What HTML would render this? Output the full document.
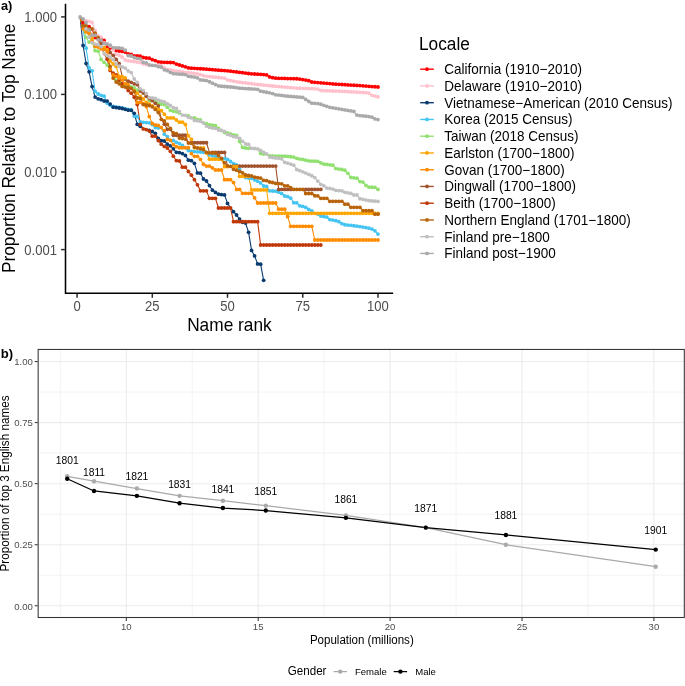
<!DOCTYPE html>
<html lang="en"><head><meta charset="utf-8"><title>Name distributions</title>
<style>html,body{margin:0;padding:0;background:#fff;}body{width:685px;height:686px;overflow:hidden;}svg{display:block;}text{font-family:"Liberation Sans",Arial,Helvetica,sans-serif;}</style></head><body>
<svg width="685" height="686" viewBox="0 0 685 686">
<rect width="685" height="686" fill="#fff"/>
<g id="top">
<g fill="none" stroke-width="1.1" stroke-linejoin="round">
<polyline stroke="#FF0000" points="80.08,16.9 83.09,23 86.1,25.6 89.11,26.7 92.11,29 95.12,37.5 98.13,38.5 101.14,39.6 104.15,40.5 107.16,47 110.17,48 113.18,49.5 116.19,50.6 119.2,51 122.2,51.4 125.21,52 128.22,54 131.23,54.5 134.24,55.8 137.25,56 140.26,56.2 143.27,57.5 146.28,58 149.29,58.2 152.29,59.7 155.3,60.6 158.31,61.9 161.32,62.2 164.33,62.3 167.34,62.4 170.35,62.5 173.36,62.6 176.37,64.1 179.38,65 182.38,65.91 185.39,66.86 188.4,67.93 191.41,68.13 194.42,68.34 197.43,68.55 200.44,68.75 203.45,68.96 206.46,69.17 209.47,69.39 212.47,69.63 215.48,69.88 218.49,70.13 221.5,70.38 224.51,70.62 227.52,70.87 230.53,71.13 233.54,71.53 236.55,71.92 239.56,72.32 242.56,72.72 245.57,73.12 248.58,73.51 251.59,73.8 254.6,73.98 257.61,74.17 260.62,74.35 263.63,74.54 266.64,74.94 269.65,76.91 272.65,77.63 275.66,78.22 278.67,78.29 281.68,78.37 284.69,78.45 287.7,78.53 290.71,78.6 293.72,78.68 296.73,78.76 299.74,79.04 302.75,79.57 305.75,80.1 308.76,80.68 311.77,82.02 314.78,82.29 317.79,82.55 320.8,82.82 323.81,83.08 326.82,83.35 329.83,83.61 332.83,83.88 335.84,84.14 338.85,84.34 341.86,84.52 344.87,84.7 347.88,84.88 350.89,85.05 353.9,85.23 356.91,85.41 359.92,85.62 362.93,85.85 365.93,86.08 368.94,86.31 371.95,86.54 374.96,86.77 377.97,87"/>
<polyline stroke="#FFC0CB" points="80.08,16.9 83.09,19.3 86.1,20.8 89.11,21.4 92.11,22.5 95.12,30.4 98.13,35.7 101.14,37.1 104.15,42.8 107.16,43.8 110.17,46 113.18,50 116.19,54.3 119.2,55.2 122.2,57.2 125.21,60 128.22,60.8 131.23,61.2 134.24,61.5 137.25,62.1 140.26,62.6 143.27,64.1 146.28,64.5 149.29,64.8 152.29,65.1 155.3,65.3 158.31,65.4 161.32,65.7 164.33,68 167.34,69.3 170.35,69.8 173.36,70.7 176.37,71.1 179.38,71.5 182.38,72 185.39,72.3 188.4,72.58 191.41,73.01 194.42,73.45 197.43,73.89 200.44,74.67 203.45,75.58 206.46,76.3 209.47,76.6 212.47,76.9 215.48,77.2 218.49,77.5 221.5,77.8 224.51,78.11 227.52,79.92 230.53,80.54 233.54,81.16 236.55,81.78 239.56,82.24 242.56,82.6 245.57,82.96 248.58,83.33 251.59,83.71 254.6,84.1 257.61,84.42 260.62,84.73 263.63,85.05 266.64,85.36 269.65,85.68 272.65,86 275.66,86.31 278.67,86.58 281.68,86.83 284.69,87.07 287.7,87.32 290.71,87.57 293.72,87.82 296.73,88.06 299.74,88.25 302.75,88.36 305.75,88.47 308.76,88.58 311.77,88.69 314.78,88.8 317.79,89.12 320.8,90.52 323.81,90.63 326.82,90.75 329.83,90.86 332.83,90.98 335.84,91.1 338.85,91.21 341.86,91.33 344.87,91.46 347.88,91.63 350.89,91.8 353.9,91.97 356.91,92.14 359.92,92.31 362.93,92.48 365.93,92.65 368.94,93.08 371.95,95.32 374.96,96.11 377.97,96.89"/>
<polyline stroke="#44C4F1" points="80.08,16.9 83.09,28.9 86.1,48.2 89.11,67.9 92.11,70.8 95.12,91.4 98.13,94 101.14,95.3 104.15,96.2 107.16,103.2 110.17,105.2 113.18,106.3 116.19,106.8 119.2,107.3 122.2,107.9 125.21,108.7 128.22,109.5 131.23,109.6 134.24,116.2 137.25,116.5 140.26,121.6 143.27,122.3 146.28,122.6 149.29,122.8 152.29,124.5 155.3,127.5 158.31,127.9 161.32,128.1 164.33,134.2 167.34,136.6 170.35,140.1 173.36,140.4 176.37,142.3 179.38,143.6 182.38,145.3 185.39,148 188.4,150.6 191.41,151.3 194.42,151.6 197.43,151.8 200.44,152 203.45,152.3 206.46,153.5 209.47,154.8 212.47,155.8 215.48,156.3 218.49,157.3 221.5,158.3 224.51,158.7 227.52,159.3 230.53,161.5 233.54,163.6 236.55,165 239.56,168.9 242.56,172.8 245.57,177.5 248.58,178 251.59,178.3 254.6,179.8 257.61,181.2 260.62,182.9 263.63,186 266.64,186.4 269.65,190.8 272.65,191 275.66,191.2 278.67,192.2 281.68,193.6 284.69,196 287.7,196.6 290.71,198.2 293.72,202.7 296.73,202.9 299.74,205.8 302.75,206.4 305.75,207.4 308.76,209.4 311.77,210.9 314.78,212.9 317.79,214 320.8,216.1 323.81,216.5 326.82,217.1 329.83,219.6 332.83,220.1 335.84,220.7 338.85,221.7 341.86,223.64 344.87,224.74 347.88,225.04 350.89,225.36 353.9,225.75 356.91,226.14 359.92,226.54 362.93,227.05 365.93,227.57 368.94,228.22 371.95,229.11 374.96,230.78 377.97,234.07"/>
<polyline stroke="#0A3B70" points="80.08,16.9 83.09,45.5 86.1,63.5 89.11,71.8 92.11,86.6 95.12,97.1 98.13,98.8 101.14,99.7 104.15,101 107.16,101.1 110.17,104.1 113.18,107.2 116.19,107.6 119.2,108 122.2,108.5 125.21,109.3 128.22,110.2 131.23,110.3 134.24,113.3 137.25,124.3 140.26,126.3 143.27,128.5 146.28,129.3 149.29,130.3 152.29,131.5 155.3,133.3 158.31,138.5 161.32,140.7 164.33,141 167.34,144.2 170.35,145.8 173.36,148.8 176.37,152.3 179.38,152.6 182.38,153.6 185.39,155.4 188.4,160.2 191.41,160.7 194.42,163.3 197.43,172.9 200.44,173.2 203.45,179 206.46,181 209.47,185.6 212.47,190.2 215.48,192.4 218.49,194.2 221.5,194.6 224.51,194.9 227.52,203.4 230.53,207.7 233.54,211.7 236.55,215 239.56,219.1 242.56,222.3 245.57,223.1 248.58,232.3 251.59,250.4 254.6,255.9 257.61,263.9 260.62,264.2 263.63,280.3"/>
<polyline stroke="#90E070" points="80.08,16.9 83.09,28.9 86.1,37.3 89.11,42.2 92.11,42.8 95.12,50.7 98.13,51.2 101.14,59.4 104.15,62.3 107.16,65.1 110.17,70 113.18,75 116.19,80.3 119.2,82.5 122.2,83.8 125.21,85 128.22,86 131.23,87 134.24,88 137.25,90.1 140.26,91.3 143.27,93.2 146.28,96.5 149.29,100.4 152.29,100.5 155.3,100.7 158.31,103.3 161.32,104 164.33,104.6 167.34,107.2 170.35,110.3 173.36,111.2 176.37,111.8 179.38,112.9 182.38,114.6 185.39,115.2 188.4,115.8 191.41,117.5 194.42,118 197.43,119.5 200.44,120 203.45,122.5 206.46,123.7 209.47,124.8 212.47,125.2 215.48,125.7 218.49,128.3 221.5,130.5 224.51,132.6 227.52,132.8 230.53,133.8 233.54,134.9 236.55,135.3 239.56,141.6 242.56,147.4 245.57,148 248.58,148.3 251.59,148.6 254.6,148.9 257.61,149.2 260.62,153.6 263.63,154 266.64,154.3 269.65,155.8 272.65,156 275.66,156.05 278.67,156.1 281.68,156.15 284.69,156.2 287.7,156.47 290.71,156.74 293.72,157.05 296.73,158.28 299.74,159.04 302.75,159.45 305.75,160.18 308.76,160.93 311.77,161.08 314.78,161.22 317.79,161.37 320.8,162.92 323.81,164.04 326.82,164.43 329.83,164.82 332.83,165.25 335.84,168.6 338.85,169.05 341.86,169.5 344.87,170.27 347.88,173.28 350.89,177.46 353.9,177.85 356.91,178.24 359.92,181.54 362.93,182.05 365.93,185.38 368.94,187.14 371.95,187.27 374.96,187.44 377.97,189.38"/>
<polyline stroke="#A0522D" points="80.08,16.9 83.09,25.6 86.1,25.8 89.11,28.9 92.11,29 95.12,33.1 98.13,37.7 101.14,43.6 104.15,43.7 107.16,44.2 110.17,52.5 113.18,55.3 116.19,59.4 119.2,63.6 122.2,76.3 125.21,79 128.22,81.2 131.23,82.3 134.24,83.8 137.25,84.5 140.26,91 143.27,93 146.28,96.3 149.29,98.6 152.29,100.7 155.3,103.3 158.31,105.9 161.32,119 164.33,124.2 167.34,129.3 170.35,129.3 173.36,135.23 176.37,135.23 179.38,135.23 182.38,135.23 185.39,135.23 188.4,142.74 191.41,142.74 194.42,142.74 197.43,142.74 200.44,142.74 203.45,142.74 206.46,142.74 209.47,152.42 212.47,152.42 215.48,152.42 218.49,152.42 221.5,152.42 224.51,152.42 227.52,166.07 230.53,166.07 233.54,166.07 236.55,166.07 239.56,166.07 242.56,166.07 245.57,166.07 248.58,166.07 251.59,166.07 254.6,166.07 257.61,166.07 260.62,166.07 263.63,166.07 266.64,166.07 269.65,166.07 272.65,166.07 275.66,166.07 278.67,189.4 281.68,189.4 284.69,189.4 287.7,189.4 290.71,189.4 293.72,189.4 296.73,189.4 299.74,189.4 302.75,189.4 305.75,189.4 308.76,189.4 311.77,189.4 314.78,189.4 317.79,189.4 320.8,189.4"/>
<polyline stroke="#BF3808" points="80.08,16.9 83.09,25.6 86.1,28.9 89.11,30 92.11,35.2 95.12,35.3 98.13,39.8 101.14,46.6 104.15,53.7 107.16,59.2 110.17,70.4 113.18,73.2 116.19,75 119.2,80 122.2,84 125.21,87 128.22,90.6 131.23,93.2 134.24,97.2 137.25,104.6 140.26,124.5 143.27,128.9 146.28,129.6 149.29,131.1 152.29,136.2 155.3,136.2 158.31,140.6 161.32,144.2 164.33,146.4 167.34,148 170.35,151.3 173.36,156.2 176.37,160.6 179.38,161 182.38,167.2 185.39,167.2 188.4,171.5 191.41,175.2 194.42,179.7 197.43,184.8 200.44,190.83 203.45,190.83 206.46,190.83 209.47,198.34 212.47,198.34 215.48,198.34 218.49,208.02 221.5,208.02 224.51,208.02 227.52,208.02 230.53,208.02 233.54,221.67 236.55,221.67 239.56,221.67 242.56,221.67 245.57,221.67 248.58,221.67 251.59,221.67 254.6,221.67 257.61,221.67 260.62,245 263.63,245 266.64,245 269.65,245 272.65,245 275.66,245 278.67,245 281.68,245 284.69,245 287.7,245 290.71,245 293.72,245 296.73,245 299.74,245 302.75,245 305.75,245 308.76,245 311.77,245 314.78,245 317.79,245 320.8,245"/>
<polyline stroke="#FFA500" points="80.08,16.9 83.09,28.9 86.1,31.9 89.11,33.5 92.11,38.5 95.12,46.4 98.13,47.1 101.14,47.4 104.15,47.6 107.16,49.7 110.17,61 113.18,64 116.19,66.6 119.2,76.3 122.2,76.6 125.21,77.9 128.22,87.5 131.23,88.4 134.24,90.8 137.25,93.2 140.26,96.3 143.27,99 146.28,102.4 149.29,104 152.29,106 155.3,108 158.31,109.4 161.32,110.7 164.33,114.2 167.34,117.94 170.35,117.94 173.36,117.94 176.37,119.98 179.38,122.15 182.38,122.15 185.39,124.48 188.4,135.8 191.41,139.35 194.42,147.8 197.43,147.8 200.44,147.8 203.45,147.8 206.46,152.99 209.47,159.13 212.47,159.13 215.48,159.13 218.49,159.13 221.5,159.13 224.51,166.64 227.52,166.64 230.53,166.64 233.54,166.64 236.55,166.64 239.56,176.32 242.56,176.32 245.57,176.32 248.58,176.32 251.59,189.97 254.6,189.97 257.61,189.97 260.62,189.97 263.63,189.97 266.64,189.97 269.65,213.3 272.65,213.3 275.66,213.3 278.67,213.3 281.68,213.3 284.69,213.3 287.7,213.3 290.71,213.3 293.72,213.3 296.73,213.3 299.74,213.3 302.75,213.3 305.75,213.3 308.76,213.3 311.77,213.3 314.78,213.3 317.79,213.3 320.8,213.3 323.81,213.3 326.82,213.3 329.83,213.3 332.83,213.3 335.84,213.3 338.85,213.3 341.86,213.3 344.87,213.3 347.88,213.3 350.89,213.3 353.9,213.3 356.91,213.3 359.92,213.3 362.93,213.3 365.93,213.3 368.94,213.3 371.95,213.3 374.96,213.3 377.97,213.3"/>
<polyline stroke="#FF8C00" points="80.08,16.9 83.09,28.9 86.1,31.9 89.11,33.5 92.11,41.5 95.12,46.4 98.13,47.1 101.14,48.8 104.15,49.3 107.16,51.5 110.17,69.3 113.18,75 116.19,76.3 119.2,78 122.2,80.1 125.21,83.8 128.22,84.9 131.23,88.4 134.24,91.5 137.25,102.4 140.26,102.4 143.27,103.7 146.28,106.6 149.29,116.6 152.29,123.5 155.3,125 158.31,125.4 161.32,127.6 164.33,130.7 167.34,139.4 170.35,140.3 173.36,144.64 176.37,146.68 179.38,147.75 182.38,147.75 185.39,147.75 188.4,147.75 191.41,153.67 194.42,156.36 197.43,156.36 200.44,159.29 203.45,164.23 206.46,166.05 209.47,166.05 212.47,167.97 215.48,170.01 218.49,170.01 221.5,170.01 224.51,179.69 227.52,179.69 230.53,179.69 233.54,182.62 236.55,189.38 239.56,189.38 242.56,193.34 245.57,193.34 248.58,193.34 251.59,193.34 254.6,197.83 257.61,203.02 260.62,203.02 263.63,203.02 266.64,203.02 269.65,203.02 272.65,203.02 275.66,203.02 278.67,209.16 281.68,209.16 284.69,209.16 287.7,216.67 290.71,226.35 293.72,226.35 296.73,226.35 299.74,226.35 302.75,226.35 305.75,226.35 308.76,226.35 311.77,226.35 314.78,240 317.79,240 320.8,240 323.81,240 326.82,240 329.83,240 332.83,240 335.84,240 338.85,240 341.86,240 344.87,240 347.88,240 350.89,240 353.9,240 356.91,240 359.92,240 362.93,240 365.93,240 368.94,240 371.95,240 374.96,240 377.97,240"/>
<polyline stroke="#B8620A" points="80.08,16.9 83.09,25.6 86.1,25.8 89.11,28.9 92.11,29 95.12,33.1 98.13,37.7 101.14,46.4 104.15,53.5 107.16,55.6 110.17,66.6 113.18,78.1 116.19,82 119.2,83.8 122.2,86.4 125.21,87.1 128.22,87.5 131.23,88.4 134.24,91.5 137.25,98 140.26,98.5 143.27,104.6 146.28,105 149.29,105.5 152.29,106.8 155.3,109.4 158.31,112.5 161.32,119.3 164.33,121 167.34,124.5 170.35,128.5 173.36,133 176.37,133.7 179.38,138.1 182.38,138.5 185.39,139.1 188.4,143 191.41,143.3 194.42,147.1 197.43,148 200.44,148.8 203.45,149.7 206.46,152.3 209.47,152.8 212.47,153 215.48,153.2 218.49,155.4 221.5,158.5 224.51,162.8 227.52,165.9 230.53,166.4 233.54,169.3 236.55,170.2 239.56,171.5 242.56,172.8 245.57,175 248.58,175.5 251.59,175.9 254.6,177.2 257.61,177.7 260.62,178.1 263.63,180.3 266.64,180.7 269.65,182 272.65,182.5 275.66,183.4 278.67,183.6 281.68,183.8 284.69,185.8 287.7,185.8 290.71,187.71 293.72,189.4 296.73,189.4 299.74,189.4 302.75,189.4 305.75,193.5 308.76,193.5 311.77,193.5 314.78,195.75 317.79,195.96 320.8,198.3 323.81,198.3 326.82,198.3 329.83,201.3 332.83,201.3 335.84,201.3 338.85,201.3 341.86,201.3 344.87,204.2 347.88,204.2 350.89,207.3 353.9,207.3 356.91,207.3 359.92,207.3 362.93,210.7 365.93,210.7 368.94,210.7 371.95,210.7 374.96,214.2 377.97,214.2"/>
<polyline stroke="#C0C0C0" points="80.08,16.9 83.09,19.5 86.1,28.9 89.11,37.2 92.11,42.6 95.12,44.1 98.13,44.5 101.14,46.6 104.15,53.7 107.16,55.6 110.17,57.2 113.18,59.6 116.19,64 119.2,66.2 122.2,66.9 125.21,68.1 128.22,71 131.23,72.6 134.24,79 137.25,82.3 140.26,88.8 143.27,90.6 146.28,93.6 149.29,97.6 152.29,98 155.3,98.5 158.31,100.2 161.32,101.1 164.33,102 167.34,103.7 170.35,105.5 173.36,107.7 176.37,108.5 179.38,111.6 182.38,115.1 185.39,115.3 188.4,117.3 191.41,117.9 194.42,120.4 197.43,120.8 200.44,121.3 203.45,123 206.46,126.1 209.47,127.4 212.47,128.1 215.48,128.3 218.49,130 221.5,130.5 224.51,131.3 227.52,134.4 230.53,135.3 233.54,136.6 236.55,137 239.56,138.4 242.56,141.3 245.57,143.9 248.58,144.4 251.59,148.3 254.6,148.5 257.61,148.8 260.62,150.5 263.63,152.3 266.64,154 269.65,157.1 272.65,157.5 275.66,158 278.67,158.3 281.68,158.8 284.69,162.3 287.7,163.21 290.71,164.12 293.72,165.18 296.73,169.49 299.74,170.63 302.75,171.79 305.75,173.11 308.76,174.42 311.77,175.73 314.78,177.61 317.79,181.09 320.8,184.29 323.81,185.83 326.82,188.06 329.83,188.38 332.83,189.08 335.84,190.36 338.85,190.61 341.86,190.87 344.87,192.36 347.88,192.82 350.89,193.45 353.9,195 356.91,195 359.92,198.74 362.93,199.32 365.93,200.04 368.94,200.69 371.95,200.94 374.96,201.17 377.97,201.4"/>
<polyline stroke="#A9A9A9" points="80.08,16.9 83.09,19 86.1,22.5 89.11,30 92.11,35.2 95.12,35.3 98.13,39.8 101.14,40.3 104.15,43.5 107.16,44 110.17,45.1 113.18,47.6 116.19,47.8 119.2,47.9 122.2,48.4 125.21,50.2 128.22,55.7 131.23,56 134.24,57.5 137.25,58.4 140.26,58.8 143.27,62.3 146.28,63 149.29,65 152.29,65.4 155.3,65.6 158.31,66.7 161.32,67.2 164.33,69.8 167.34,70.7 170.35,72.4 173.36,73.7 176.37,73.8 179.38,74.2 182.38,74.25 185.39,74.55 188.4,76.26 191.41,76.67 194.42,77.09 197.43,77.89 200.44,79.9 203.45,80.22 206.46,80.54 209.47,81.75 212.47,83.15 215.48,84.55 218.49,85.95 221.5,86.24 224.51,86.49 227.52,86.73 230.53,86.98 233.54,87.25 236.55,87.69 239.56,88.13 242.56,88.36 245.57,88.55 248.58,88.74 251.59,88.93 254.6,89.12 257.61,89.37 260.62,91.14 263.63,91.71 266.64,92.27 269.65,92.84 272.65,93.57 275.66,94.78 278.67,95.12 281.68,95.46 284.69,95.8 287.7,96.14 290.71,96.41 293.72,96.65 296.73,96.9 299.74,97.15 302.75,97.4 305.75,99.39 308.76,101.41 311.77,103.21 314.78,103.37 317.79,103.54 320.8,104.23 323.81,105.3 326.82,106.36 329.83,107.31 332.83,107.83 335.84,108.35 338.85,108.87 341.86,109.4 344.87,109.92 347.88,110.44 350.89,110.96 353.9,111.48 356.91,115.09 359.92,115.54 362.93,115.89 365.93,116.25 368.94,116.6 371.95,117.19 374.96,118.91 377.97,119.59"/>
</g>
<g stroke="none">
<g fill="#FF0000"><circle cx="83.09" cy="23" r="1.9"/><circle cx="89.11" cy="26.7" r="1.9"/><circle cx="95.12" cy="37.5" r="1.9"/><circle cx="98.13" cy="38.5" r="1.9"/><circle cx="101.14" cy="39.6" r="1.9"/><circle cx="104.15" cy="40.5" r="1.9"/><circle cx="107.16" cy="47" r="1.9"/><circle cx="110.17" cy="48" r="1.9"/><circle cx="116.19" cy="50.6" r="1.9"/><circle cx="119.2" cy="51" r="1.9"/><circle cx="122.2" cy="51.4" r="1.9"/><circle cx="125.21" cy="52" r="1.9"/><circle cx="128.22" cy="54" r="1.9"/><circle cx="131.23" cy="54.5" r="1.9"/><circle cx="134.24" cy="55.8" r="1.9"/><circle cx="137.25" cy="56" r="1.9"/><circle cx="140.26" cy="56.2" r="1.9"/><circle cx="143.27" cy="57.5" r="1.9"/><circle cx="146.28" cy="58" r="1.9"/><circle cx="149.29" cy="58.2" r="1.9"/><circle cx="152.29" cy="59.7" r="1.9"/><circle cx="155.3" cy="60.6" r="1.9"/><circle cx="158.31" cy="61.9" r="1.9"/><circle cx="161.32" cy="62.2" r="1.9"/><circle cx="164.33" cy="62.3" r="1.9"/><circle cx="167.34" cy="62.4" r="1.9"/><circle cx="170.35" cy="62.5" r="1.9"/><circle cx="173.36" cy="62.6" r="1.9"/><circle cx="176.37" cy="64.1" r="1.9"/><circle cx="179.38" cy="65" r="1.9"/><circle cx="182.38" cy="65.91" r="1.9"/><circle cx="185.39" cy="66.86" r="1.9"/><circle cx="188.4" cy="67.93" r="1.9"/><circle cx="191.41" cy="68.13" r="1.9"/><circle cx="194.42" cy="68.34" r="1.9"/><circle cx="197.43" cy="68.55" r="1.9"/><circle cx="200.44" cy="68.75" r="1.9"/><circle cx="203.45" cy="68.96" r="1.9"/><circle cx="206.46" cy="69.17" r="1.9"/><circle cx="209.47" cy="69.39" r="1.9"/><circle cx="212.47" cy="69.63" r="1.9"/><circle cx="215.48" cy="69.88" r="1.9"/><circle cx="218.49" cy="70.13" r="1.9"/><circle cx="221.5" cy="70.38" r="1.9"/><circle cx="224.51" cy="70.62" r="1.9"/><circle cx="227.52" cy="70.87" r="1.9"/><circle cx="230.53" cy="71.13" r="1.9"/><circle cx="233.54" cy="71.53" r="1.9"/><circle cx="236.55" cy="71.92" r="1.9"/><circle cx="239.56" cy="72.32" r="1.9"/><circle cx="242.56" cy="72.72" r="1.9"/><circle cx="245.57" cy="73.12" r="1.9"/><circle cx="248.58" cy="73.51" r="1.9"/><circle cx="251.59" cy="73.8" r="1.9"/><circle cx="254.6" cy="73.98" r="1.9"/><circle cx="257.61" cy="74.17" r="1.9"/><circle cx="260.62" cy="74.35" r="1.9"/><circle cx="263.63" cy="74.54" r="1.9"/><circle cx="266.64" cy="74.94" r="1.9"/><circle cx="269.65" cy="76.91" r="1.9"/><circle cx="272.65" cy="77.63" r="1.9"/><circle cx="275.66" cy="78.22" r="1.9"/><circle cx="278.67" cy="78.29" r="1.9"/><circle cx="281.68" cy="78.37" r="1.9"/><circle cx="284.69" cy="78.45" r="1.9"/><circle cx="287.7" cy="78.53" r="1.9"/><circle cx="290.71" cy="78.6" r="1.9"/><circle cx="293.72" cy="78.68" r="1.9"/><circle cx="296.73" cy="78.76" r="1.9"/><circle cx="299.74" cy="79.04" r="1.9"/><circle cx="302.75" cy="79.57" r="1.9"/><circle cx="305.75" cy="80.1" r="1.9"/><circle cx="308.76" cy="80.68" r="1.9"/><circle cx="311.77" cy="82.02" r="1.9"/><circle cx="314.78" cy="82.29" r="1.9"/><circle cx="317.79" cy="82.55" r="1.9"/><circle cx="320.8" cy="82.82" r="1.9"/><circle cx="323.81" cy="83.08" r="1.9"/><circle cx="326.82" cy="83.35" r="1.9"/><circle cx="329.83" cy="83.61" r="1.9"/><circle cx="332.83" cy="83.88" r="1.9"/><circle cx="335.84" cy="84.14" r="1.9"/><circle cx="338.85" cy="84.34" r="1.9"/><circle cx="341.86" cy="84.52" r="1.9"/><circle cx="344.87" cy="84.7" r="1.9"/><circle cx="347.88" cy="84.88" r="1.9"/><circle cx="350.89" cy="85.05" r="1.9"/><circle cx="353.9" cy="85.23" r="1.9"/><circle cx="356.91" cy="85.41" r="1.9"/><circle cx="359.92" cy="85.62" r="1.9"/><circle cx="362.93" cy="85.85" r="1.9"/><circle cx="365.93" cy="86.08" r="1.9"/><circle cx="368.94" cy="86.31" r="1.9"/><circle cx="371.95" cy="86.54" r="1.9"/><circle cx="374.96" cy="86.77" r="1.9"/><circle cx="377.97" cy="87" r="1.9"/></g>
<g fill="#FFC0CB"><circle cx="86.1" cy="20.8" r="1.9"/><circle cx="89.11" cy="21.4" r="1.9"/><circle cx="92.11" cy="22.5" r="1.9"/><circle cx="95.12" cy="30.4" r="1.9"/><circle cx="98.13" cy="35.7" r="1.9"/><circle cx="101.14" cy="37.1" r="1.9"/><circle cx="104.15" cy="42.8" r="1.9"/><circle cx="110.17" cy="46" r="1.9"/><circle cx="113.18" cy="50" r="1.9"/><circle cx="116.19" cy="54.3" r="1.9"/><circle cx="119.2" cy="55.2" r="1.9"/><circle cx="122.2" cy="57.2" r="1.9"/><circle cx="125.21" cy="60" r="1.9"/><circle cx="128.22" cy="60.8" r="1.9"/><circle cx="131.23" cy="61.2" r="1.9"/><circle cx="134.24" cy="61.5" r="1.9"/><circle cx="137.25" cy="62.1" r="1.9"/><circle cx="140.26" cy="62.6" r="1.9"/><circle cx="143.27" cy="64.1" r="1.9"/><circle cx="146.28" cy="64.5" r="1.9"/><circle cx="158.31" cy="65.4" r="1.9"/><circle cx="161.32" cy="65.7" r="1.9"/><circle cx="164.33" cy="68" r="1.9"/><circle cx="167.34" cy="69.3" r="1.9"/><circle cx="170.35" cy="69.8" r="1.9"/><circle cx="173.36" cy="70.7" r="1.9"/><circle cx="176.37" cy="71.1" r="1.9"/><circle cx="179.38" cy="71.5" r="1.9"/><circle cx="182.38" cy="72" r="1.9"/><circle cx="185.39" cy="72.3" r="1.9"/><circle cx="188.4" cy="72.58" r="1.9"/><circle cx="191.41" cy="73.01" r="1.9"/><circle cx="194.42" cy="73.45" r="1.9"/><circle cx="197.43" cy="73.89" r="1.9"/><circle cx="200.44" cy="74.67" r="1.9"/><circle cx="203.45" cy="75.58" r="1.9"/><circle cx="206.46" cy="76.3" r="1.9"/><circle cx="209.47" cy="76.6" r="1.9"/><circle cx="212.47" cy="76.9" r="1.9"/><circle cx="215.48" cy="77.2" r="1.9"/><circle cx="218.49" cy="77.5" r="1.9"/><circle cx="221.5" cy="77.8" r="1.9"/><circle cx="224.51" cy="78.11" r="1.9"/><circle cx="227.52" cy="79.92" r="1.9"/><circle cx="230.53" cy="80.54" r="1.9"/><circle cx="233.54" cy="81.16" r="1.9"/><circle cx="236.55" cy="81.78" r="1.9"/><circle cx="239.56" cy="82.24" r="1.9"/><circle cx="242.56" cy="82.6" r="1.9"/><circle cx="245.57" cy="82.96" r="1.9"/><circle cx="248.58" cy="83.33" r="1.9"/><circle cx="251.59" cy="83.71" r="1.9"/><circle cx="254.6" cy="84.1" r="1.9"/><circle cx="257.61" cy="84.42" r="1.9"/><circle cx="260.62" cy="84.73" r="1.9"/><circle cx="263.63" cy="85.05" r="1.9"/><circle cx="266.64" cy="85.36" r="1.9"/><circle cx="269.65" cy="85.68" r="1.9"/><circle cx="272.65" cy="86" r="1.9"/><circle cx="275.66" cy="86.31" r="1.9"/><circle cx="278.67" cy="86.58" r="1.9"/><circle cx="281.68" cy="86.83" r="1.9"/><circle cx="284.69" cy="87.07" r="1.9"/><circle cx="287.7" cy="87.32" r="1.9"/><circle cx="290.71" cy="87.57" r="1.9"/><circle cx="293.72" cy="87.82" r="1.9"/><circle cx="296.73" cy="88.06" r="1.9"/><circle cx="299.74" cy="88.25" r="1.9"/><circle cx="302.75" cy="88.36" r="1.9"/><circle cx="305.75" cy="88.47" r="1.9"/><circle cx="308.76" cy="88.58" r="1.9"/><circle cx="311.77" cy="88.69" r="1.9"/><circle cx="314.78" cy="88.8" r="1.9"/><circle cx="317.79" cy="89.12" r="1.9"/><circle cx="320.8" cy="90.52" r="1.9"/><circle cx="323.81" cy="90.63" r="1.9"/><circle cx="326.82" cy="90.75" r="1.9"/><circle cx="329.83" cy="90.86" r="1.9"/><circle cx="332.83" cy="90.98" r="1.9"/><circle cx="335.84" cy="91.1" r="1.9"/><circle cx="338.85" cy="91.21" r="1.9"/><circle cx="341.86" cy="91.33" r="1.9"/><circle cx="344.87" cy="91.46" r="1.9"/><circle cx="347.88" cy="91.63" r="1.9"/><circle cx="350.89" cy="91.8" r="1.9"/><circle cx="353.9" cy="91.97" r="1.9"/><circle cx="356.91" cy="92.14" r="1.9"/><circle cx="359.92" cy="92.31" r="1.9"/><circle cx="362.93" cy="92.48" r="1.9"/><circle cx="365.93" cy="92.65" r="1.9"/><circle cx="368.94" cy="93.08" r="1.9"/><circle cx="371.95" cy="95.32" r="1.9"/><circle cx="374.96" cy="96.11" r="1.9"/><circle cx="377.97" cy="96.89" r="1.9"/></g>
<g fill="#44C4F1"><circle cx="86.1" cy="48.2" r="1.9"/><circle cx="89.11" cy="67.9" r="1.9"/><circle cx="92.11" cy="70.8" r="1.9"/><circle cx="95.12" cy="91.4" r="1.9"/><circle cx="98.13" cy="94" r="1.9"/><circle cx="101.14" cy="95.3" r="1.9"/><circle cx="104.15" cy="96.2" r="1.9"/><circle cx="107.16" cy="103.2" r="1.9"/><circle cx="110.17" cy="105.2" r="1.9"/><circle cx="113.18" cy="106.3" r="1.9"/><circle cx="116.19" cy="106.8" r="1.9"/><circle cx="119.2" cy="107.3" r="1.9"/><circle cx="122.2" cy="107.9" r="1.9"/><circle cx="125.21" cy="108.7" r="1.9"/><circle cx="128.22" cy="109.5" r="1.9"/><circle cx="131.23" cy="109.6" r="1.9"/><circle cx="134.24" cy="116.2" r="1.9"/><circle cx="137.25" cy="116.5" r="1.9"/><circle cx="140.26" cy="121.6" r="1.9"/><circle cx="143.27" cy="122.3" r="1.9"/><circle cx="146.28" cy="122.6" r="1.9"/><circle cx="149.29" cy="122.8" r="1.9"/><circle cx="152.29" cy="124.5" r="1.9"/><circle cx="155.3" cy="127.5" r="1.9"/><circle cx="158.31" cy="127.9" r="1.9"/><circle cx="164.33" cy="134.2" r="1.9"/><circle cx="167.34" cy="136.6" r="1.9"/><circle cx="173.36" cy="140.4" r="1.9"/><circle cx="176.37" cy="142.3" r="1.9"/><circle cx="179.38" cy="143.6" r="1.9"/><circle cx="182.38" cy="145.3" r="1.9"/><circle cx="188.4" cy="150.6" r="1.9"/><circle cx="191.41" cy="151.3" r="1.9"/><circle cx="194.42" cy="151.6" r="1.9"/><circle cx="197.43" cy="151.8" r="1.9"/><circle cx="200.44" cy="152" r="1.9"/><circle cx="203.45" cy="152.3" r="1.9"/><circle cx="209.47" cy="154.8" r="1.9"/><circle cx="212.47" cy="155.8" r="1.9"/><circle cx="215.48" cy="156.3" r="1.9"/><circle cx="218.49" cy="157.3" r="1.9"/><circle cx="224.51" cy="158.7" r="1.9"/><circle cx="227.52" cy="159.3" r="1.9"/><circle cx="230.53" cy="161.5" r="1.9"/><circle cx="233.54" cy="163.6" r="1.9"/><circle cx="236.55" cy="165" r="1.9"/><circle cx="239.56" cy="168.9" r="1.9"/><circle cx="245.57" cy="177.5" r="1.9"/><circle cx="248.58" cy="178" r="1.9"/><circle cx="251.59" cy="178.3" r="1.9"/><circle cx="254.6" cy="179.8" r="1.9"/><circle cx="257.61" cy="181.2" r="1.9"/><circle cx="260.62" cy="182.9" r="1.9"/><circle cx="263.63" cy="186" r="1.9"/><circle cx="266.64" cy="186.4" r="1.9"/><circle cx="269.65" cy="190.8" r="1.9"/><circle cx="272.65" cy="191" r="1.9"/><circle cx="275.66" cy="191.2" r="1.9"/><circle cx="278.67" cy="192.2" r="1.9"/><circle cx="281.68" cy="193.6" r="1.9"/><circle cx="284.69" cy="196" r="1.9"/><circle cx="287.7" cy="196.6" r="1.9"/><circle cx="290.71" cy="198.2" r="1.9"/><circle cx="293.72" cy="202.7" r="1.9"/><circle cx="296.73" cy="202.9" r="1.9"/><circle cx="299.74" cy="205.8" r="1.9"/><circle cx="302.75" cy="206.4" r="1.9"/><circle cx="305.75" cy="207.4" r="1.9"/><circle cx="308.76" cy="209.4" r="1.9"/><circle cx="311.77" cy="210.9" r="1.9"/><circle cx="317.79" cy="214" r="1.9"/><circle cx="320.8" cy="216.1" r="1.9"/><circle cx="323.81" cy="216.5" r="1.9"/><circle cx="326.82" cy="217.1" r="1.9"/><circle cx="329.83" cy="219.6" r="1.9"/><circle cx="332.83" cy="220.1" r="1.9"/><circle cx="335.84" cy="220.7" r="1.9"/><circle cx="338.85" cy="221.7" r="1.9"/><circle cx="341.86" cy="223.64" r="1.9"/><circle cx="344.87" cy="224.74" r="1.9"/><circle cx="347.88" cy="225.04" r="1.9"/><circle cx="350.89" cy="225.36" r="1.9"/><circle cx="353.9" cy="225.75" r="1.9"/><circle cx="356.91" cy="226.14" r="1.9"/><circle cx="359.92" cy="226.54" r="1.9"/><circle cx="362.93" cy="227.05" r="1.9"/><circle cx="365.93" cy="227.57" r="1.9"/><circle cx="368.94" cy="228.22" r="1.9"/><circle cx="371.95" cy="229.11" r="1.9"/><circle cx="374.96" cy="230.78" r="1.9"/><circle cx="377.97" cy="234.07" r="1.9"/></g>
<g fill="#0A3B70"><circle cx="83.09" cy="45.5" r="1.9"/><circle cx="86.1" cy="63.5" r="1.9"/><circle cx="89.11" cy="71.8" r="1.9"/><circle cx="92.11" cy="86.6" r="1.9"/><circle cx="95.12" cy="97.1" r="1.9"/><circle cx="98.13" cy="98.8" r="1.9"/><circle cx="101.14" cy="99.7" r="1.9"/><circle cx="104.15" cy="101" r="1.9"/><circle cx="107.16" cy="101.1" r="1.9"/><circle cx="110.17" cy="104.1" r="1.9"/><circle cx="113.18" cy="107.2" r="1.9"/><circle cx="116.19" cy="107.6" r="1.9"/><circle cx="119.2" cy="108" r="1.9"/><circle cx="122.2" cy="108.5" r="1.9"/><circle cx="125.21" cy="109.3" r="1.9"/><circle cx="128.22" cy="110.2" r="1.9"/><circle cx="131.23" cy="110.3" r="1.9"/><circle cx="134.24" cy="113.3" r="1.9"/><circle cx="137.25" cy="124.3" r="1.9"/><circle cx="140.26" cy="126.3" r="1.9"/><circle cx="149.29" cy="130.3" r="1.9"/><circle cx="152.29" cy="131.5" r="1.9"/><circle cx="155.3" cy="133.3" r="1.9"/><circle cx="158.31" cy="138.5" r="1.9"/><circle cx="161.32" cy="140.7" r="1.9"/><circle cx="164.33" cy="141" r="1.9"/><circle cx="167.34" cy="144.2" r="1.9"/><circle cx="170.35" cy="145.8" r="1.9"/><circle cx="173.36" cy="148.8" r="1.9"/><circle cx="176.37" cy="152.3" r="1.9"/><circle cx="179.38" cy="152.6" r="1.9"/><circle cx="182.38" cy="153.6" r="1.9"/><circle cx="185.39" cy="155.4" r="1.9"/><circle cx="188.4" cy="160.2" r="1.9"/><circle cx="191.41" cy="160.7" r="1.9"/><circle cx="194.42" cy="163.3" r="1.9"/><circle cx="197.43" cy="172.9" r="1.9"/><circle cx="200.44" cy="173.2" r="1.9"/><circle cx="203.45" cy="179" r="1.9"/><circle cx="206.46" cy="181" r="1.9"/><circle cx="209.47" cy="185.6" r="1.9"/><circle cx="212.47" cy="190.2" r="1.9"/><circle cx="215.48" cy="192.4" r="1.9"/><circle cx="218.49" cy="194.2" r="1.9"/><circle cx="221.5" cy="194.6" r="1.9"/><circle cx="224.51" cy="194.9" r="1.9"/><circle cx="227.52" cy="203.4" r="1.9"/><circle cx="233.54" cy="211.7" r="1.9"/><circle cx="236.55" cy="215" r="1.9"/><circle cx="239.56" cy="219.1" r="1.9"/><circle cx="242.56" cy="222.3" r="1.9"/><circle cx="245.57" cy="223.1" r="1.9"/><circle cx="248.58" cy="232.3" r="1.9"/><circle cx="251.59" cy="250.4" r="1.9"/><circle cx="254.6" cy="255.9" r="1.9"/><circle cx="257.61" cy="263.9" r="1.9"/><circle cx="260.62" cy="264.2" r="1.9"/><circle cx="263.63" cy="280.3" r="1.9"/></g>
<g fill="#90E070"><circle cx="86.1" cy="37.3" r="1.9"/><circle cx="89.11" cy="42.2" r="1.9"/><circle cx="95.12" cy="50.7" r="1.9"/><circle cx="98.13" cy="51.2" r="1.9"/><circle cx="101.14" cy="59.4" r="1.9"/><circle cx="104.15" cy="62.3" r="1.9"/><circle cx="107.16" cy="65.1" r="1.9"/><circle cx="116.19" cy="80.3" r="1.9"/><circle cx="119.2" cy="82.5" r="1.9"/><circle cx="125.21" cy="85" r="1.9"/><circle cx="128.22" cy="86" r="1.9"/><circle cx="131.23" cy="87" r="1.9"/><circle cx="134.24" cy="88" r="1.9"/><circle cx="137.25" cy="90.1" r="1.9"/><circle cx="149.29" cy="100.4" r="1.9"/><circle cx="155.3" cy="100.7" r="1.9"/><circle cx="158.31" cy="103.3" r="1.9"/><circle cx="161.32" cy="104" r="1.9"/><circle cx="164.33" cy="104.6" r="1.9"/><circle cx="167.34" cy="107.2" r="1.9"/><circle cx="170.35" cy="110.3" r="1.9"/><circle cx="173.36" cy="111.2" r="1.9"/><circle cx="176.37" cy="111.8" r="1.9"/><circle cx="179.38" cy="112.9" r="1.9"/><circle cx="188.4" cy="115.8" r="1.9"/><circle cx="194.42" cy="118" r="1.9"/><circle cx="197.43" cy="119.5" r="1.9"/><circle cx="200.44" cy="120" r="1.9"/><circle cx="206.46" cy="123.7" r="1.9"/><circle cx="209.47" cy="124.8" r="1.9"/><circle cx="212.47" cy="125.2" r="1.9"/><circle cx="215.48" cy="125.7" r="1.9"/><circle cx="218.49" cy="128.3" r="1.9"/><circle cx="224.51" cy="132.6" r="1.9"/><circle cx="227.52" cy="132.8" r="1.9"/><circle cx="230.53" cy="133.8" r="1.9"/><circle cx="233.54" cy="134.9" r="1.9"/><circle cx="236.55" cy="135.3" r="1.9"/><circle cx="239.56" cy="141.6" r="1.9"/><circle cx="242.56" cy="147.4" r="1.9"/><circle cx="245.57" cy="148" r="1.9"/><circle cx="248.58" cy="148.3" r="1.9"/><circle cx="260.62" cy="153.6" r="1.9"/><circle cx="263.63" cy="154" r="1.9"/><circle cx="269.65" cy="155.8" r="1.9"/><circle cx="272.65" cy="156" r="1.9"/><circle cx="275.66" cy="156.05" r="1.9"/><circle cx="278.67" cy="156.1" r="1.9"/><circle cx="281.68" cy="156.15" r="1.9"/><circle cx="284.69" cy="156.2" r="1.9"/><circle cx="287.7" cy="156.47" r="1.9"/><circle cx="290.71" cy="156.74" r="1.9"/><circle cx="293.72" cy="157.05" r="1.9"/><circle cx="296.73" cy="158.28" r="1.9"/><circle cx="299.74" cy="159.04" r="1.9"/><circle cx="302.75" cy="159.45" r="1.9"/><circle cx="305.75" cy="160.18" r="1.9"/><circle cx="308.76" cy="160.93" r="1.9"/><circle cx="311.77" cy="161.08" r="1.9"/><circle cx="314.78" cy="161.22" r="1.9"/><circle cx="317.79" cy="161.37" r="1.9"/><circle cx="320.8" cy="162.92" r="1.9"/><circle cx="323.81" cy="164.04" r="1.9"/><circle cx="326.82" cy="164.43" r="1.9"/><circle cx="329.83" cy="164.82" r="1.9"/><circle cx="332.83" cy="165.25" r="1.9"/><circle cx="335.84" cy="168.6" r="1.9"/><circle cx="338.85" cy="169.05" r="1.9"/><circle cx="341.86" cy="169.5" r="1.9"/><circle cx="344.87" cy="170.27" r="1.9"/><circle cx="347.88" cy="173.28" r="1.9"/><circle cx="350.89" cy="177.46" r="1.9"/><circle cx="353.9" cy="177.85" r="1.9"/><circle cx="356.91" cy="178.24" r="1.9"/><circle cx="359.92" cy="181.54" r="1.9"/><circle cx="362.93" cy="182.05" r="1.9"/><circle cx="365.93" cy="185.38" r="1.9"/><circle cx="368.94" cy="187.14" r="1.9"/><circle cx="371.95" cy="187.27" r="1.9"/><circle cx="374.96" cy="187.44" r="1.9"/><circle cx="377.97" cy="189.38" r="1.9"/></g>
<g fill="#A0522D"><circle cx="101.14" cy="43.6" r="1.9"/><circle cx="110.17" cy="52.5" r="1.9"/><circle cx="113.18" cy="55.3" r="1.9"/><circle cx="116.19" cy="59.4" r="1.9"/><circle cx="119.2" cy="63.6" r="1.9"/><circle cx="125.21" cy="79" r="1.9"/><circle cx="128.22" cy="81.2" r="1.9"/><circle cx="131.23" cy="82.3" r="1.9"/><circle cx="134.24" cy="83.8" r="1.9"/><circle cx="137.25" cy="84.5" r="1.9"/><circle cx="140.26" cy="91" r="1.9"/><circle cx="143.27" cy="93" r="1.9"/><circle cx="146.28" cy="96.3" r="1.9"/><circle cx="149.29" cy="98.6" r="1.9"/><circle cx="152.29" cy="100.7" r="1.9"/><circle cx="155.3" cy="103.3" r="1.9"/><circle cx="158.31" cy="105.9" r="1.9"/><circle cx="164.33" cy="124.2" r="1.9"/><circle cx="167.34" cy="129.3" r="1.9"/><circle cx="170.35" cy="129.3" r="1.9"/><circle cx="173.36" cy="135.23" r="1.9"/><circle cx="176.37" cy="135.23" r="1.9"/><circle cx="179.38" cy="135.23" r="1.9"/><circle cx="182.38" cy="135.23" r="1.9"/><circle cx="185.39" cy="135.23" r="1.9"/><circle cx="191.41" cy="142.74" r="1.9"/><circle cx="194.42" cy="142.74" r="1.9"/><circle cx="197.43" cy="142.74" r="1.9"/><circle cx="200.44" cy="142.74" r="1.9"/><circle cx="203.45" cy="142.74" r="1.9"/><circle cx="206.46" cy="142.74" r="1.9"/><circle cx="212.47" cy="152.42" r="1.9"/><circle cx="215.48" cy="152.42" r="1.9"/><circle cx="218.49" cy="152.42" r="1.9"/><circle cx="221.5" cy="152.42" r="1.9"/><circle cx="224.51" cy="152.42" r="1.9"/><circle cx="233.54" cy="166.07" r="1.9"/><circle cx="236.55" cy="166.07" r="1.9"/><circle cx="239.56" cy="166.07" r="1.9"/><circle cx="242.56" cy="166.07" r="1.9"/><circle cx="245.57" cy="166.07" r="1.9"/><circle cx="248.58" cy="166.07" r="1.9"/><circle cx="251.59" cy="166.07" r="1.9"/><circle cx="254.6" cy="166.07" r="1.9"/><circle cx="257.61" cy="166.07" r="1.9"/><circle cx="260.62" cy="166.07" r="1.9"/><circle cx="263.63" cy="166.07" r="1.9"/><circle cx="266.64" cy="166.07" r="1.9"/><circle cx="269.65" cy="166.07" r="1.9"/><circle cx="272.65" cy="166.07" r="1.9"/><circle cx="275.66" cy="166.07" r="1.9"/><circle cx="278.67" cy="189.4" r="1.9"/><circle cx="281.68" cy="189.4" r="1.9"/><circle cx="284.69" cy="189.4" r="1.9"/><circle cx="287.7" cy="189.4" r="1.9"/><circle cx="290.71" cy="189.4" r="1.9"/><circle cx="305.75" cy="189.4" r="1.9"/><circle cx="308.76" cy="189.4" r="1.9"/><circle cx="311.77" cy="189.4" r="1.9"/><circle cx="314.78" cy="189.4" r="1.9"/><circle cx="317.79" cy="189.4" r="1.9"/><circle cx="320.8" cy="189.4" r="1.9"/></g>
<g fill="#BF3808"><circle cx="107.16" cy="59.2" r="1.9"/><circle cx="110.17" cy="70.4" r="1.9"/><circle cx="113.18" cy="73.2" r="1.9"/><circle cx="116.19" cy="75" r="1.9"/><circle cx="119.2" cy="80" r="1.9"/><circle cx="122.2" cy="84" r="1.9"/><circle cx="128.22" cy="90.6" r="1.9"/><circle cx="131.23" cy="93.2" r="1.9"/><circle cx="134.24" cy="97.2" r="1.9"/><circle cx="137.25" cy="104.6" r="1.9"/><circle cx="140.26" cy="124.5" r="1.9"/><circle cx="143.27" cy="128.9" r="1.9"/><circle cx="146.28" cy="129.6" r="1.9"/><circle cx="149.29" cy="131.1" r="1.9"/><circle cx="152.29" cy="136.2" r="1.9"/><circle cx="155.3" cy="136.2" r="1.9"/><circle cx="158.31" cy="140.6" r="1.9"/><circle cx="161.32" cy="144.2" r="1.9"/><circle cx="164.33" cy="146.4" r="1.9"/><circle cx="167.34" cy="148" r="1.9"/><circle cx="170.35" cy="151.3" r="1.9"/><circle cx="173.36" cy="156.2" r="1.9"/><circle cx="176.37" cy="160.6" r="1.9"/><circle cx="179.38" cy="161" r="1.9"/><circle cx="182.38" cy="167.2" r="1.9"/><circle cx="185.39" cy="167.2" r="1.9"/><circle cx="188.4" cy="171.5" r="1.9"/><circle cx="191.41" cy="175.2" r="1.9"/><circle cx="194.42" cy="179.7" r="1.9"/><circle cx="197.43" cy="184.8" r="1.9"/><circle cx="200.44" cy="190.83" r="1.9"/><circle cx="203.45" cy="190.83" r="1.9"/><circle cx="206.46" cy="190.83" r="1.9"/><circle cx="209.47" cy="198.34" r="1.9"/><circle cx="212.47" cy="198.34" r="1.9"/><circle cx="215.48" cy="198.34" r="1.9"/><circle cx="218.49" cy="208.02" r="1.9"/><circle cx="221.5" cy="208.02" r="1.9"/><circle cx="224.51" cy="208.02" r="1.9"/><circle cx="227.52" cy="208.02" r="1.9"/><circle cx="230.53" cy="208.02" r="1.9"/><circle cx="233.54" cy="221.67" r="1.9"/><circle cx="236.55" cy="221.67" r="1.9"/><circle cx="239.56" cy="221.67" r="1.9"/><circle cx="242.56" cy="221.67" r="1.9"/><circle cx="245.57" cy="221.67" r="1.9"/><circle cx="248.58" cy="221.67" r="1.9"/><circle cx="251.59" cy="221.67" r="1.9"/><circle cx="254.6" cy="221.67" r="1.9"/><circle cx="257.61" cy="221.67" r="1.9"/><circle cx="260.62" cy="245" r="1.9"/><circle cx="263.63" cy="245" r="1.9"/><circle cx="266.64" cy="245" r="1.9"/><circle cx="269.65" cy="245" r="1.9"/><circle cx="272.65" cy="245" r="1.9"/><circle cx="275.66" cy="245" r="1.9"/><circle cx="278.67" cy="245" r="1.9"/><circle cx="281.68" cy="245" r="1.9"/><circle cx="284.69" cy="245" r="1.9"/><circle cx="287.7" cy="245" r="1.9"/><circle cx="290.71" cy="245" r="1.9"/><circle cx="293.72" cy="245" r="1.9"/><circle cx="296.73" cy="245" r="1.9"/><circle cx="299.74" cy="245" r="1.9"/><circle cx="302.75" cy="245" r="1.9"/><circle cx="305.75" cy="245" r="1.9"/><circle cx="308.76" cy="245" r="1.9"/><circle cx="311.77" cy="245" r="1.9"/><circle cx="314.78" cy="245" r="1.9"/><circle cx="317.79" cy="245" r="1.9"/><circle cx="320.8" cy="245" r="1.9"/></g>
<g fill="#FFA500"><circle cx="92.11" cy="38.5" r="1.9"/><circle cx="101.14" cy="47.4" r="1.9"/><circle cx="104.15" cy="47.6" r="1.9"/><circle cx="107.16" cy="49.7" r="1.9"/><circle cx="110.17" cy="61" r="1.9"/><circle cx="113.18" cy="64" r="1.9"/><circle cx="116.19" cy="66.6" r="1.9"/><circle cx="119.2" cy="76.3" r="1.9"/><circle cx="122.2" cy="76.6" r="1.9"/><circle cx="125.21" cy="77.9" r="1.9"/><circle cx="134.24" cy="90.8" r="1.9"/><circle cx="137.25" cy="93.2" r="1.9"/><circle cx="140.26" cy="96.3" r="1.9"/><circle cx="143.27" cy="99" r="1.9"/><circle cx="146.28" cy="102.4" r="1.9"/><circle cx="149.29" cy="104" r="1.9"/><circle cx="152.29" cy="106" r="1.9"/><circle cx="155.3" cy="108" r="1.9"/><circle cx="158.31" cy="109.4" r="1.9"/><circle cx="161.32" cy="110.7" r="1.9"/><circle cx="164.33" cy="114.2" r="1.9"/><circle cx="167.34" cy="117.94" r="1.9"/><circle cx="170.35" cy="117.94" r="1.9"/><circle cx="173.36" cy="117.94" r="1.9"/><circle cx="176.37" cy="119.98" r="1.9"/><circle cx="179.38" cy="122.15" r="1.9"/><circle cx="182.38" cy="122.15" r="1.9"/><circle cx="185.39" cy="124.48" r="1.9"/><circle cx="188.4" cy="135.8" r="1.9"/><circle cx="191.41" cy="139.35" r="1.9"/><circle cx="194.42" cy="147.8" r="1.9"/><circle cx="200.44" cy="147.8" r="1.9"/><circle cx="203.45" cy="147.8" r="1.9"/><circle cx="206.46" cy="152.99" r="1.9"/><circle cx="209.47" cy="159.13" r="1.9"/><circle cx="212.47" cy="159.13" r="1.9"/><circle cx="215.48" cy="159.13" r="1.9"/><circle cx="218.49" cy="159.13" r="1.9"/><circle cx="221.5" cy="159.13" r="1.9"/><circle cx="224.51" cy="166.64" r="1.9"/><circle cx="227.52" cy="166.64" r="1.9"/><circle cx="233.54" cy="166.64" r="1.9"/><circle cx="236.55" cy="166.64" r="1.9"/><circle cx="239.56" cy="176.32" r="1.9"/><circle cx="242.56" cy="176.32" r="1.9"/><circle cx="245.57" cy="176.32" r="1.9"/><circle cx="248.58" cy="176.32" r="1.9"/><circle cx="251.59" cy="189.97" r="1.9"/><circle cx="254.6" cy="189.97" r="1.9"/><circle cx="257.61" cy="189.97" r="1.9"/><circle cx="260.62" cy="189.97" r="1.9"/><circle cx="263.63" cy="189.97" r="1.9"/><circle cx="266.64" cy="189.97" r="1.9"/><circle cx="269.65" cy="213.3" r="1.9"/><circle cx="272.65" cy="213.3" r="1.9"/><circle cx="275.66" cy="213.3" r="1.9"/><circle cx="278.67" cy="213.3" r="1.9"/><circle cx="281.68" cy="213.3" r="1.9"/><circle cx="284.69" cy="213.3" r="1.9"/><circle cx="287.7" cy="213.3" r="1.9"/><circle cx="290.71" cy="213.3" r="1.9"/><circle cx="293.72" cy="213.3" r="1.9"/><circle cx="296.73" cy="213.3" r="1.9"/><circle cx="299.74" cy="213.3" r="1.9"/><circle cx="302.75" cy="213.3" r="1.9"/><circle cx="305.75" cy="213.3" r="1.9"/><circle cx="308.76" cy="213.3" r="1.9"/><circle cx="311.77" cy="213.3" r="1.9"/><circle cx="314.78" cy="213.3" r="1.9"/><circle cx="317.79" cy="213.3" r="1.9"/><circle cx="320.8" cy="213.3" r="1.9"/><circle cx="323.81" cy="213.3" r="1.9"/><circle cx="326.82" cy="213.3" r="1.9"/><circle cx="329.83" cy="213.3" r="1.9"/><circle cx="332.83" cy="213.3" r="1.9"/><circle cx="335.84" cy="213.3" r="1.9"/><circle cx="338.85" cy="213.3" r="1.9"/><circle cx="341.86" cy="213.3" r="1.9"/><circle cx="344.87" cy="213.3" r="1.9"/><circle cx="347.88" cy="213.3" r="1.9"/><circle cx="350.89" cy="213.3" r="1.9"/><circle cx="353.9" cy="213.3" r="1.9"/><circle cx="356.91" cy="213.3" r="1.9"/><circle cx="359.92" cy="213.3" r="1.9"/><circle cx="362.93" cy="213.3" r="1.9"/><circle cx="365.93" cy="213.3" r="1.9"/><circle cx="368.94" cy="213.3" r="1.9"/><circle cx="371.95" cy="213.3" r="1.9"/><circle cx="374.96" cy="213.3" r="1.9"/><circle cx="377.97" cy="213.3" r="1.9"/></g>
<g fill="#FF8C00"><circle cx="83.09" cy="28.9" r="1.9"/><circle cx="86.1" cy="31.9" r="1.9"/><circle cx="89.11" cy="33.5" r="1.9"/><circle cx="92.11" cy="41.5" r="1.9"/><circle cx="95.12" cy="46.4" r="1.9"/><circle cx="98.13" cy="47.1" r="1.9"/><circle cx="101.14" cy="48.8" r="1.9"/><circle cx="104.15" cy="49.3" r="1.9"/><circle cx="107.16" cy="51.5" r="1.9"/><circle cx="110.17" cy="69.3" r="1.9"/><circle cx="113.18" cy="75" r="1.9"/><circle cx="116.19" cy="76.3" r="1.9"/><circle cx="119.2" cy="78" r="1.9"/><circle cx="122.2" cy="80.1" r="1.9"/><circle cx="125.21" cy="83.8" r="1.9"/><circle cx="128.22" cy="84.9" r="1.9"/><circle cx="137.25" cy="102.4" r="1.9"/><circle cx="140.26" cy="102.4" r="1.9"/><circle cx="143.27" cy="103.7" r="1.9"/><circle cx="146.28" cy="106.6" r="1.9"/><circle cx="149.29" cy="116.6" r="1.9"/><circle cx="152.29" cy="123.5" r="1.9"/><circle cx="155.3" cy="125" r="1.9"/><circle cx="158.31" cy="125.4" r="1.9"/><circle cx="161.32" cy="127.6" r="1.9"/><circle cx="164.33" cy="130.7" r="1.9"/><circle cx="167.34" cy="139.4" r="1.9"/><circle cx="170.35" cy="140.3" r="1.9"/><circle cx="173.36" cy="144.64" r="1.9"/><circle cx="176.37" cy="146.68" r="1.9"/><circle cx="179.38" cy="147.75" r="1.9"/><circle cx="182.38" cy="147.75" r="1.9"/><circle cx="185.39" cy="147.75" r="1.9"/><circle cx="188.4" cy="147.75" r="1.9"/><circle cx="191.41" cy="153.67" r="1.9"/><circle cx="194.42" cy="156.36" r="1.9"/><circle cx="197.43" cy="156.36" r="1.9"/><circle cx="200.44" cy="159.29" r="1.9"/><circle cx="203.45" cy="164.23" r="1.9"/><circle cx="206.46" cy="166.05" r="1.9"/><circle cx="209.47" cy="166.05" r="1.9"/><circle cx="212.47" cy="167.97" r="1.9"/><circle cx="215.48" cy="170.01" r="1.9"/><circle cx="218.49" cy="170.01" r="1.9"/><circle cx="221.5" cy="170.01" r="1.9"/><circle cx="224.51" cy="179.69" r="1.9"/><circle cx="227.52" cy="179.69" r="1.9"/><circle cx="230.53" cy="179.69" r="1.9"/><circle cx="233.54" cy="182.62" r="1.9"/><circle cx="236.55" cy="189.38" r="1.9"/><circle cx="239.56" cy="189.38" r="1.9"/><circle cx="242.56" cy="193.34" r="1.9"/><circle cx="245.57" cy="193.34" r="1.9"/><circle cx="248.58" cy="193.34" r="1.9"/><circle cx="251.59" cy="193.34" r="1.9"/><circle cx="254.6" cy="197.83" r="1.9"/><circle cx="257.61" cy="203.02" r="1.9"/><circle cx="260.62" cy="203.02" r="1.9"/><circle cx="263.63" cy="203.02" r="1.9"/><circle cx="266.64" cy="203.02" r="1.9"/><circle cx="269.65" cy="203.02" r="1.9"/><circle cx="272.65" cy="203.02" r="1.9"/><circle cx="275.66" cy="203.02" r="1.9"/><circle cx="278.67" cy="209.16" r="1.9"/><circle cx="281.68" cy="209.16" r="1.9"/><circle cx="284.69" cy="209.16" r="1.9"/><circle cx="287.7" cy="216.67" r="1.9"/><circle cx="290.71" cy="226.35" r="1.9"/><circle cx="293.72" cy="226.35" r="1.9"/><circle cx="296.73" cy="226.35" r="1.9"/><circle cx="299.74" cy="226.35" r="1.9"/><circle cx="302.75" cy="226.35" r="1.9"/><circle cx="305.75" cy="226.35" r="1.9"/><circle cx="308.76" cy="226.35" r="1.9"/><circle cx="311.77" cy="226.35" r="1.9"/><circle cx="314.78" cy="240" r="1.9"/><circle cx="317.79" cy="240" r="1.9"/><circle cx="320.8" cy="240" r="1.9"/><circle cx="323.81" cy="240" r="1.9"/><circle cx="326.82" cy="240" r="1.9"/><circle cx="329.83" cy="240" r="1.9"/><circle cx="332.83" cy="240" r="1.9"/><circle cx="335.84" cy="240" r="1.9"/><circle cx="338.85" cy="240" r="1.9"/><circle cx="341.86" cy="240" r="1.9"/><circle cx="344.87" cy="240" r="1.9"/><circle cx="347.88" cy="240" r="1.9"/><circle cx="350.89" cy="240" r="1.9"/><circle cx="353.9" cy="240" r="1.9"/><circle cx="356.91" cy="240" r="1.9"/><circle cx="359.92" cy="240" r="1.9"/><circle cx="362.93" cy="240" r="1.9"/><circle cx="365.93" cy="240" r="1.9"/><circle cx="368.94" cy="240" r="1.9"/><circle cx="371.95" cy="240" r="1.9"/><circle cx="374.96" cy="240" r="1.9"/><circle cx="377.97" cy="240" r="1.9"/></g>
<g fill="#B8620A"><circle cx="83.09" cy="25.6" r="1.9"/><circle cx="86.1" cy="25.8" r="1.9"/><circle cx="89.11" cy="28.9" r="1.9"/><circle cx="92.11" cy="29" r="1.9"/><circle cx="95.12" cy="33.1" r="1.9"/><circle cx="98.13" cy="37.7" r="1.9"/><circle cx="110.17" cy="66.6" r="1.9"/><circle cx="113.18" cy="78.1" r="1.9"/><circle cx="116.19" cy="82" r="1.9"/><circle cx="119.2" cy="83.8" r="1.9"/><circle cx="122.2" cy="86.4" r="1.9"/><circle cx="125.21" cy="87.1" r="1.9"/><circle cx="128.22" cy="87.5" r="1.9"/><circle cx="131.23" cy="88.4" r="1.9"/><circle cx="134.24" cy="91.5" r="1.9"/><circle cx="137.25" cy="98" r="1.9"/><circle cx="140.26" cy="98.5" r="1.9"/><circle cx="143.27" cy="104.6" r="1.9"/><circle cx="146.28" cy="105" r="1.9"/><circle cx="149.29" cy="105.5" r="1.9"/><circle cx="152.29" cy="106.8" r="1.9"/><circle cx="155.3" cy="109.4" r="1.9"/><circle cx="158.31" cy="112.5" r="1.9"/><circle cx="161.32" cy="119.3" r="1.9"/><circle cx="164.33" cy="121" r="1.9"/><circle cx="167.34" cy="124.5" r="1.9"/><circle cx="170.35" cy="128.5" r="1.9"/><circle cx="173.36" cy="133" r="1.9"/><circle cx="176.37" cy="133.7" r="1.9"/><circle cx="179.38" cy="138.1" r="1.9"/><circle cx="182.38" cy="138.5" r="1.9"/><circle cx="185.39" cy="139.1" r="1.9"/><circle cx="188.4" cy="143" r="1.9"/><circle cx="191.41" cy="143.3" r="1.9"/><circle cx="194.42" cy="147.1" r="1.9"/><circle cx="197.43" cy="148" r="1.9"/><circle cx="200.44" cy="148.8" r="1.9"/><circle cx="203.45" cy="149.7" r="1.9"/><circle cx="206.46" cy="152.3" r="1.9"/><circle cx="209.47" cy="152.8" r="1.9"/><circle cx="212.47" cy="153" r="1.9"/><circle cx="215.48" cy="153.2" r="1.9"/><circle cx="218.49" cy="155.4" r="1.9"/><circle cx="221.5" cy="158.5" r="1.9"/><circle cx="224.51" cy="162.8" r="1.9"/><circle cx="227.52" cy="165.9" r="1.9"/><circle cx="230.53" cy="166.4" r="1.9"/><circle cx="233.54" cy="169.3" r="1.9"/><circle cx="236.55" cy="170.2" r="1.9"/><circle cx="239.56" cy="171.5" r="1.9"/><circle cx="242.56" cy="172.8" r="1.9"/><circle cx="245.57" cy="175" r="1.9"/><circle cx="248.58" cy="175.5" r="1.9"/><circle cx="251.59" cy="175.9" r="1.9"/><circle cx="254.6" cy="177.2" r="1.9"/><circle cx="257.61" cy="177.7" r="1.9"/><circle cx="260.62" cy="178.1" r="1.9"/><circle cx="263.63" cy="180.3" r="1.9"/><circle cx="266.64" cy="180.7" r="1.9"/><circle cx="269.65" cy="182" r="1.9"/><circle cx="272.65" cy="182.5" r="1.9"/><circle cx="275.66" cy="183.4" r="1.9"/><circle cx="278.67" cy="183.6" r="1.9"/><circle cx="281.68" cy="183.8" r="1.9"/><circle cx="284.69" cy="185.8" r="1.9"/><circle cx="287.7" cy="185.8" r="1.9"/><circle cx="290.71" cy="187.71" r="1.9"/><circle cx="293.72" cy="189.4" r="1.9"/><circle cx="296.73" cy="189.4" r="1.9"/><circle cx="299.74" cy="189.4" r="1.9"/><circle cx="302.75" cy="189.4" r="1.9"/><circle cx="305.75" cy="193.5" r="1.9"/><circle cx="308.76" cy="193.5" r="1.9"/><circle cx="311.77" cy="193.5" r="1.9"/><circle cx="314.78" cy="195.75" r="1.9"/><circle cx="317.79" cy="195.96" r="1.9"/><circle cx="320.8" cy="198.3" r="1.9"/><circle cx="323.81" cy="198.3" r="1.9"/><circle cx="326.82" cy="198.3" r="1.9"/><circle cx="329.83" cy="201.3" r="1.9"/><circle cx="332.83" cy="201.3" r="1.9"/><circle cx="335.84" cy="201.3" r="1.9"/><circle cx="338.85" cy="201.3" r="1.9"/><circle cx="341.86" cy="201.3" r="1.9"/><circle cx="344.87" cy="204.2" r="1.9"/><circle cx="347.88" cy="204.2" r="1.9"/><circle cx="350.89" cy="207.3" r="1.9"/><circle cx="353.9" cy="207.3" r="1.9"/><circle cx="356.91" cy="207.3" r="1.9"/><circle cx="359.92" cy="207.3" r="1.9"/><circle cx="362.93" cy="210.7" r="1.9"/><circle cx="365.93" cy="210.7" r="1.9"/><circle cx="368.94" cy="210.7" r="1.9"/><circle cx="371.95" cy="210.7" r="1.9"/><circle cx="374.96" cy="214.2" r="1.9"/><circle cx="377.97" cy="214.2" r="1.9"/></g>
<g fill="#C0C0C0"><circle cx="86.1" cy="28.9" r="1.9"/><circle cx="89.11" cy="37.2" r="1.9"/><circle cx="92.11" cy="42.6" r="1.9"/><circle cx="95.12" cy="44.1" r="1.9"/><circle cx="98.13" cy="44.5" r="1.9"/><circle cx="101.14" cy="46.6" r="1.9"/><circle cx="104.15" cy="53.7" r="1.9"/><circle cx="107.16" cy="55.6" r="1.9"/><circle cx="110.17" cy="57.2" r="1.9"/><circle cx="113.18" cy="59.6" r="1.9"/><circle cx="116.19" cy="64" r="1.9"/><circle cx="119.2" cy="66.2" r="1.9"/><circle cx="122.2" cy="66.9" r="1.9"/><circle cx="125.21" cy="68.1" r="1.9"/><circle cx="128.22" cy="71" r="1.9"/><circle cx="131.23" cy="72.6" r="1.9"/><circle cx="134.24" cy="79" r="1.9"/><circle cx="137.25" cy="82.3" r="1.9"/><circle cx="140.26" cy="88.8" r="1.9"/><circle cx="143.27" cy="90.6" r="1.9"/><circle cx="146.28" cy="93.6" r="1.9"/><circle cx="149.29" cy="97.6" r="1.9"/><circle cx="152.29" cy="98" r="1.9"/><circle cx="155.3" cy="98.5" r="1.9"/><circle cx="158.31" cy="100.2" r="1.9"/><circle cx="161.32" cy="101.1" r="1.9"/><circle cx="164.33" cy="102" r="1.9"/><circle cx="167.34" cy="103.7" r="1.9"/><circle cx="170.35" cy="105.5" r="1.9"/><circle cx="173.36" cy="107.7" r="1.9"/><circle cx="176.37" cy="108.5" r="1.9"/><circle cx="179.38" cy="111.6" r="1.9"/><circle cx="182.38" cy="115.1" r="1.9"/><circle cx="185.39" cy="115.3" r="1.9"/><circle cx="188.4" cy="117.3" r="1.9"/><circle cx="191.41" cy="117.9" r="1.9"/><circle cx="194.42" cy="120.4" r="1.9"/><circle cx="197.43" cy="120.8" r="1.9"/><circle cx="200.44" cy="121.3" r="1.9"/><circle cx="203.45" cy="123" r="1.9"/><circle cx="206.46" cy="126.1" r="1.9"/><circle cx="209.47" cy="127.4" r="1.9"/><circle cx="212.47" cy="128.1" r="1.9"/><circle cx="215.48" cy="128.3" r="1.9"/><circle cx="218.49" cy="130" r="1.9"/><circle cx="221.5" cy="130.5" r="1.9"/><circle cx="224.51" cy="131.3" r="1.9"/><circle cx="227.52" cy="134.4" r="1.9"/><circle cx="230.53" cy="135.3" r="1.9"/><circle cx="233.54" cy="136.6" r="1.9"/><circle cx="236.55" cy="137" r="1.9"/><circle cx="239.56" cy="138.4" r="1.9"/><circle cx="242.56" cy="141.3" r="1.9"/><circle cx="245.57" cy="143.9" r="1.9"/><circle cx="248.58" cy="144.4" r="1.9"/><circle cx="251.59" cy="148.3" r="1.9"/><circle cx="254.6" cy="148.5" r="1.9"/><circle cx="257.61" cy="148.8" r="1.9"/><circle cx="260.62" cy="150.5" r="1.9"/><circle cx="263.63" cy="152.3" r="1.9"/><circle cx="266.64" cy="154" r="1.9"/><circle cx="269.65" cy="157.1" r="1.9"/><circle cx="272.65" cy="157.5" r="1.9"/><circle cx="275.66" cy="158" r="1.9"/><circle cx="278.67" cy="158.3" r="1.9"/><circle cx="281.68" cy="158.8" r="1.9"/><circle cx="284.69" cy="162.3" r="1.9"/><circle cx="287.7" cy="163.21" r="1.9"/><circle cx="290.71" cy="164.12" r="1.9"/><circle cx="293.72" cy="165.18" r="1.9"/><circle cx="296.73" cy="169.49" r="1.9"/><circle cx="299.74" cy="170.63" r="1.9"/><circle cx="302.75" cy="171.79" r="1.9"/><circle cx="305.75" cy="173.11" r="1.9"/><circle cx="308.76" cy="174.42" r="1.9"/><circle cx="311.77" cy="175.73" r="1.9"/><circle cx="314.78" cy="177.61" r="1.9"/><circle cx="317.79" cy="181.09" r="1.9"/><circle cx="320.8" cy="184.29" r="1.9"/><circle cx="323.81" cy="185.83" r="1.9"/><circle cx="326.82" cy="188.06" r="1.9"/><circle cx="329.83" cy="188.38" r="1.9"/><circle cx="332.83" cy="189.08" r="1.9"/><circle cx="335.84" cy="190.36" r="1.9"/><circle cx="338.85" cy="190.61" r="1.9"/><circle cx="341.86" cy="190.87" r="1.9"/><circle cx="344.87" cy="192.36" r="1.9"/><circle cx="347.88" cy="192.82" r="1.9"/><circle cx="350.89" cy="193.45" r="1.9"/><circle cx="353.9" cy="195" r="1.9"/><circle cx="356.91" cy="195" r="1.9"/><circle cx="359.92" cy="198.74" r="1.9"/><circle cx="362.93" cy="199.32" r="1.9"/><circle cx="365.93" cy="200.04" r="1.9"/><circle cx="368.94" cy="200.69" r="1.9"/><circle cx="371.95" cy="200.94" r="1.9"/><circle cx="374.96" cy="201.17" r="1.9"/><circle cx="377.97" cy="201.4" r="1.9"/></g>
<g fill="#A9A9A9"><circle cx="80.08" cy="16.9" r="1.9"/><circle cx="83.09" cy="19" r="1.9"/><circle cx="86.1" cy="22.5" r="1.9"/><circle cx="89.11" cy="30" r="1.9"/><circle cx="92.11" cy="35.2" r="1.9"/><circle cx="95.12" cy="35.3" r="1.9"/><circle cx="98.13" cy="39.8" r="1.9"/><circle cx="101.14" cy="40.3" r="1.9"/><circle cx="104.15" cy="43.5" r="1.9"/><circle cx="107.16" cy="44" r="1.9"/><circle cx="110.17" cy="45.1" r="1.9"/><circle cx="113.18" cy="47.6" r="1.9"/><circle cx="116.19" cy="47.8" r="1.9"/><circle cx="119.2" cy="47.9" r="1.9"/><circle cx="122.2" cy="48.4" r="1.9"/><circle cx="125.21" cy="50.2" r="1.9"/><circle cx="128.22" cy="55.7" r="1.9"/><circle cx="131.23" cy="56" r="1.9"/><circle cx="134.24" cy="57.5" r="1.9"/><circle cx="137.25" cy="58.4" r="1.9"/><circle cx="140.26" cy="58.8" r="1.9"/><circle cx="143.27" cy="62.3" r="1.9"/><circle cx="146.28" cy="63" r="1.9"/><circle cx="149.29" cy="65" r="1.9"/><circle cx="152.29" cy="65.4" r="1.9"/><circle cx="155.3" cy="65.6" r="1.9"/><circle cx="158.31" cy="66.7" r="1.9"/><circle cx="161.32" cy="67.2" r="1.9"/><circle cx="164.33" cy="69.8" r="1.9"/><circle cx="167.34" cy="70.7" r="1.9"/><circle cx="170.35" cy="72.4" r="1.9"/><circle cx="173.36" cy="73.7" r="1.9"/><circle cx="176.37" cy="73.8" r="1.9"/><circle cx="179.38" cy="74.2" r="1.9"/><circle cx="182.38" cy="74.25" r="1.9"/><circle cx="185.39" cy="74.55" r="1.9"/><circle cx="188.4" cy="76.26" r="1.9"/><circle cx="191.41" cy="76.67" r="1.9"/><circle cx="194.42" cy="77.09" r="1.9"/><circle cx="197.43" cy="77.89" r="1.9"/><circle cx="200.44" cy="79.9" r="1.9"/><circle cx="203.45" cy="80.22" r="1.9"/><circle cx="206.46" cy="80.54" r="1.9"/><circle cx="209.47" cy="81.75" r="1.9"/><circle cx="212.47" cy="83.15" r="1.9"/><circle cx="215.48" cy="84.55" r="1.9"/><circle cx="218.49" cy="85.95" r="1.9"/><circle cx="221.5" cy="86.24" r="1.9"/><circle cx="224.51" cy="86.49" r="1.9"/><circle cx="227.52" cy="86.73" r="1.9"/><circle cx="230.53" cy="86.98" r="1.9"/><circle cx="233.54" cy="87.25" r="1.9"/><circle cx="236.55" cy="87.69" r="1.9"/><circle cx="239.56" cy="88.13" r="1.9"/><circle cx="242.56" cy="88.36" r="1.9"/><circle cx="245.57" cy="88.55" r="1.9"/><circle cx="248.58" cy="88.74" r="1.9"/><circle cx="251.59" cy="88.93" r="1.9"/><circle cx="254.6" cy="89.12" r="1.9"/><circle cx="257.61" cy="89.37" r="1.9"/><circle cx="260.62" cy="91.14" r="1.9"/><circle cx="263.63" cy="91.71" r="1.9"/><circle cx="266.64" cy="92.27" r="1.9"/><circle cx="269.65" cy="92.84" r="1.9"/><circle cx="272.65" cy="93.57" r="1.9"/><circle cx="275.66" cy="94.78" r="1.9"/><circle cx="278.67" cy="95.12" r="1.9"/><circle cx="281.68" cy="95.46" r="1.9"/><circle cx="284.69" cy="95.8" r="1.9"/><circle cx="287.7" cy="96.14" r="1.9"/><circle cx="290.71" cy="96.41" r="1.9"/><circle cx="293.72" cy="96.65" r="1.9"/><circle cx="296.73" cy="96.9" r="1.9"/><circle cx="299.74" cy="97.15" r="1.9"/><circle cx="302.75" cy="97.4" r="1.9"/><circle cx="305.75" cy="99.39" r="1.9"/><circle cx="308.76" cy="101.41" r="1.9"/><circle cx="311.77" cy="103.21" r="1.9"/><circle cx="314.78" cy="103.37" r="1.9"/><circle cx="317.79" cy="103.54" r="1.9"/><circle cx="320.8" cy="104.23" r="1.9"/><circle cx="323.81" cy="105.3" r="1.9"/><circle cx="326.82" cy="106.36" r="1.9"/><circle cx="329.83" cy="107.31" r="1.9"/><circle cx="332.83" cy="107.83" r="1.9"/><circle cx="335.84" cy="108.35" r="1.9"/><circle cx="338.85" cy="108.87" r="1.9"/><circle cx="341.86" cy="109.4" r="1.9"/><circle cx="344.87" cy="109.92" r="1.9"/><circle cx="347.88" cy="110.44" r="1.9"/><circle cx="350.89" cy="110.96" r="1.9"/><circle cx="353.9" cy="111.48" r="1.9"/><circle cx="356.91" cy="115.09" r="1.9"/><circle cx="359.92" cy="115.54" r="1.9"/><circle cx="362.93" cy="115.89" r="1.9"/><circle cx="365.93" cy="116.25" r="1.9"/><circle cx="368.94" cy="116.6" r="1.9"/><circle cx="371.95" cy="117.19" r="1.9"/><circle cx="374.96" cy="118.91" r="1.9"/><circle cx="377.97" cy="119.59" r="1.9"/></g>
</g>
<path d="M65.5,4.4V293.3H392.4" fill="none" stroke="#000" stroke-width="1.55" stroke-linecap="square"/>
<g stroke="#2B2B2B" stroke-width="1.5">
<line x1="61.1" y1="16.9" x2="64.9" y2="16.9"/>
<line x1="61.1" y1="94.4" x2="64.9" y2="94.4"/>
<line x1="61.1" y1="172.0" x2="64.9" y2="172.0"/>
<line x1="61.1" y1="249.6" x2="64.9" y2="249.6"/>
<line x1="77.07" y1="293.90000000000003" x2="77.07" y2="297.8"/>
<line x1="152.3" y1="293.90000000000003" x2="152.3" y2="297.8"/>
<line x1="227.5" y1="293.90000000000003" x2="227.5" y2="297.8"/>
<line x1="302.75" y1="293.90000000000003" x2="302.75" y2="297.8"/>
<line x1="378.0" y1="293.90000000000003" x2="378.0" y2="297.8"/>
</g>
<g fill="#4D4D4D" font-size="13.05">
<text transform="translate(57.0,21.8) scale(1,1.07)" text-anchor="end">1.000</text>
<text transform="translate(57.0,99.3) scale(1,1.07)" text-anchor="end">0.100</text>
<text transform="translate(57.0,176.9) scale(1,1.07)" text-anchor="end">0.010</text>
<text transform="translate(57.0,254.5) scale(1,1.07)" text-anchor="end">0.001</text>
<text transform="translate(77.07,311.2) scale(1,1.07)" text-anchor="middle">0</text>
<text transform="translate(152.3,311.2) scale(1,1.07)" text-anchor="middle">25</text>
<text transform="translate(227.5,311.2) scale(1,1.07)" text-anchor="middle">50</text>
<text transform="translate(302.75,311.2) scale(1,1.07)" text-anchor="middle">75</text>
<text transform="translate(378.0,311.2) scale(1,1.07)" text-anchor="middle">100</text>
</g>
<text transform="translate(229.4,330.9) scale(1,1.05)" font-size="17.3" text-anchor="middle" fill="#000">Name rank</text>
<text transform="translate(15.1,148.3) rotate(-90) scale(1,1.01)" text-anchor="middle" font-size="17.3" fill="#000">Proportion Relative to Top Name</text>
<text x="0.9" y="10.3" font-size="12.8" font-weight="bold" fill="#000">a)</text>
<text transform="translate(418.9,50.3) scale(1,1.06)" font-size="17.3" fill="#000">Locale</text>
<line x1="420.2" y1="69.2" x2="433.8" y2="69.2" stroke="#FF0000" stroke-width="1.4000000000000001"/>
<circle cx="427" cy="69.2" r="1.9" fill="#FF0000"/>
<text transform="translate(444.3,74.15) scale(1,1.06)" font-size="13.5" fill="#000">California (1910−2010)</text>
<line x1="420.2" y1="85.95" x2="433.8" y2="85.95" stroke="#FFC0CB" stroke-width="1.4000000000000001"/>
<circle cx="427" cy="85.95" r="1.9" fill="#FFC0CB"/>
<text transform="translate(444.3,90.9) scale(1,1.06)" font-size="13.5" fill="#000">Delaware (1910−2010)</text>
<line x1="420.2" y1="102.7" x2="433.8" y2="102.7" stroke="#0A3B70" stroke-width="1.4000000000000001"/>
<circle cx="427" cy="102.7" r="1.9" fill="#0A3B70"/>
<text transform="translate(444.3,107.65) scale(1,1.06)" font-size="13.5" fill="#000">Vietnamese−American (2010 Census)</text>
<line x1="420.2" y1="119.45" x2="433.8" y2="119.45" stroke="#44C4F1" stroke-width="1.4000000000000001"/>
<circle cx="427" cy="119.45" r="1.9" fill="#44C4F1"/>
<text transform="translate(444.3,124.4) scale(1,1.06)" font-size="13.5" fill="#000">Korea (2015 Census)</text>
<line x1="420.2" y1="136.2" x2="433.8" y2="136.2" stroke="#90E070" stroke-width="1.4000000000000001"/>
<circle cx="427" cy="136.2" r="1.9" fill="#90E070"/>
<text transform="translate(444.3,141.15) scale(1,1.06)" font-size="13.5" fill="#000">Taiwan (2018 Census)</text>
<line x1="420.2" y1="152.95" x2="433.8" y2="152.95" stroke="#FFA500" stroke-width="1.4000000000000001"/>
<circle cx="427" cy="152.95" r="1.9" fill="#FFA500"/>
<text transform="translate(444.3,157.9) scale(1,1.06)" font-size="13.5" fill="#000">Earlston (1700−1800)</text>
<line x1="420.2" y1="169.7" x2="433.8" y2="169.7" stroke="#FF8C00" stroke-width="1.4000000000000001"/>
<circle cx="427" cy="169.7" r="1.9" fill="#FF8C00"/>
<text transform="translate(444.3,174.65) scale(1,1.06)" font-size="13.5" fill="#000">Govan (1700−1800)</text>
<line x1="420.2" y1="186.45" x2="433.8" y2="186.45" stroke="#A0522D" stroke-width="1.4000000000000001"/>
<circle cx="427" cy="186.45" r="1.9" fill="#A0522D"/>
<text transform="translate(444.3,191.4) scale(1,1.06)" font-size="13.5" fill="#000">Dingwall (1700−1800)</text>
<line x1="420.2" y1="203.2" x2="433.8" y2="203.2" stroke="#BF3808" stroke-width="1.4000000000000001"/>
<circle cx="427" cy="203.2" r="1.9" fill="#BF3808"/>
<text transform="translate(444.3,208.15) scale(1,1.06)" font-size="13.5" fill="#000">Beith (1700−1800)</text>
<line x1="420.2" y1="219.95" x2="433.8" y2="219.95" stroke="#B8620A" stroke-width="1.4000000000000001"/>
<circle cx="427" cy="219.95" r="1.9" fill="#B8620A"/>
<text transform="translate(444.3,224.9) scale(1,1.06)" font-size="13.5" fill="#000">Northern England (1701−1800)</text>
<line x1="420.2" y1="236.7" x2="433.8" y2="236.7" stroke="#C0C0C0" stroke-width="1.4000000000000001"/>
<circle cx="427" cy="236.7" r="1.9" fill="#C0C0C0"/>
<text transform="translate(444.3,241.65) scale(1,1.06)" font-size="13.5" fill="#000">Finland pre−1800</text>
<line x1="420.2" y1="253.45" x2="433.8" y2="253.45" stroke="#A9A9A9" stroke-width="1.4000000000000001"/>
<circle cx="427" cy="253.45" r="1.9" fill="#A9A9A9"/>
<text transform="translate(444.3,258.4) scale(1,1.06)" font-size="13.5" fill="#000">Finland post−1900</text>
</g>
<g id="bottom">
<rect x="38.15" y="349.45" width="646.15" height="268.05" fill="#fff"/>
<g stroke="#EBEBEB" stroke-width="0.6">
<line x1="38.15" x2="684.3" y1="575.23" y2="575.23"/>
<line x1="38.15" x2="684.3" y1="514.17" y2="514.17"/>
<line x1="38.15" x2="684.3" y1="453.12" y2="453.12"/>
<line x1="38.15" x2="684.3" y1="392.08" y2="392.08"/>
<line y1="349.45" y2="617.5" x1="60.35" x2="60.35"/>
<line y1="349.45" y2="617.5" x1="192.25" x2="192.25"/>
<line y1="349.45" y2="617.5" x1="324.15" x2="324.15"/>
<line y1="349.45" y2="617.5" x1="456.05" x2="456.05"/>
<line y1="349.45" y2="617.5" x1="587.95" x2="587.95"/>
</g>
<g stroke="#EBEBEB" stroke-width="1.05">
<line x1="38.15" x2="684.3" y1="605.75" y2="605.75"/>
<line x1="38.15" x2="684.3" y1="544.7" y2="544.7"/>
<line x1="38.15" x2="684.3" y1="483.65" y2="483.65"/>
<line x1="38.15" x2="684.3" y1="422.6" y2="422.6"/>
<line x1="38.15" x2="684.3" y1="361.55" y2="361.55"/>
<line y1="349.45" y2="617.5" x1="126.3" x2="126.3"/>
<line y1="349.45" y2="617.5" x1="258.2" x2="258.2"/>
<line y1="349.45" y2="617.5" x1="390.1" x2="390.1"/>
<line y1="349.45" y2="617.5" x1="522" x2="522"/>
<line y1="349.45" y2="617.5" x1="653.9" x2="653.9"/>
</g>
<polyline fill="none" stroke="#A9A9A9" stroke-width="1.25" stroke-linejoin="round" points="67.2,476.32 94.0,481.21 136.9,488.53 179.6,495.86 222.9,500.74 265.8,505.63 345.9,515.4 425.8,527.61 505.9,544.7 655.7,566.68"/>
<polyline fill="none" stroke="#000000" stroke-width="1.25" stroke-linejoin="round" points="67.2,478.77 94.0,490.98 136.9,495.86 179.6,503.19 222.9,508.07 265.8,510.51 345.9,517.84 425.8,527.61 505.9,534.93 655.7,549.58"/>
<g fill="#A9A9A9"><circle cx="67.2" cy="476.32" r="2.2"/><circle cx="94.0" cy="481.21" r="2.2"/><circle cx="136.9" cy="488.53" r="2.2"/><circle cx="179.6" cy="495.86" r="2.2"/><circle cx="222.9" cy="500.74" r="2.2"/><circle cx="265.8" cy="505.63" r="2.2"/><circle cx="345.9" cy="515.4" r="2.2"/><circle cx="425.8" cy="527.61" r="2.2"/><circle cx="505.9" cy="544.7" r="2.2"/><circle cx="655.7" cy="566.68" r="2.2"/></g>
<g fill="#000000"><circle cx="67.2" cy="478.77" r="2.2"/><circle cx="94.0" cy="490.98" r="2.2"/><circle cx="136.9" cy="495.86" r="2.2"/><circle cx="179.6" cy="503.19" r="2.2"/><circle cx="222.9" cy="508.07" r="2.2"/><circle cx="265.8" cy="510.51" r="2.2"/><circle cx="345.9" cy="517.84" r="2.2"/><circle cx="425.8" cy="527.61" r="2.2"/><circle cx="505.9" cy="534.93" r="2.2"/><circle cx="655.7" cy="549.58" r="2.2"/></g>
<g font-size="10.3" fill="#000" text-anchor="middle">
<text x="67.2" y="463.5">1801</text>
<text x="94.0" y="475.5">1811</text>
<text x="136.9" y="480.4">1821</text>
<text x="179.6" y="488.1">1831</text>
<text x="222.9" y="492.8">1841</text>
<text x="265.8" y="495.4">1851</text>
<text x="345.9" y="502.8">1861</text>
<text x="425.8" y="512.4">1871</text>
<text x="505.9" y="519.3">1881</text>
<text x="655.7" y="534.2">1901</text>
</g>
<rect x="38.15" y="349.45" width="646.15" height="268.05" fill="none" stroke="#333" stroke-width="1.05"/>
<g stroke="#333" stroke-width="1.05">
<line x1="34.75" x2="37.65" y1="605.75" y2="605.75"/>
<line x1="34.75" x2="37.65" y1="544.7" y2="544.7"/>
<line x1="34.75" x2="37.65" y1="483.65" y2="483.65"/>
<line x1="34.75" x2="37.65" y1="422.6" y2="422.6"/>
<line x1="34.75" x2="37.65" y1="361.55" y2="361.55"/>
<line y1="618.0" y2="620.9" x1="126.3" x2="126.3"/>
<line y1="618.0" y2="620.9" x1="258.2" x2="258.2"/>
<line y1="618.0" y2="620.9" x1="390.1" x2="390.1"/>
<line y1="618.0" y2="620.9" x1="522" x2="522"/>
<line y1="618.0" y2="620.9" x1="653.9" x2="653.9"/>
</g>
<g fill="#4D4D4D" font-size="9.6">
<text transform="translate(32.8,609.5) scale(1,1.02)" text-anchor="end">0.00</text>
<text transform="translate(32.8,548.45) scale(1,1.02)" text-anchor="end">0.25</text>
<text transform="translate(32.8,487.4) scale(1,1.02)" text-anchor="end">0.50</text>
<text transform="translate(32.8,426.35) scale(1,1.02)" text-anchor="end">0.75</text>
<text transform="translate(32.8,365.3) scale(1,1.02)" text-anchor="end">1.00</text>
<text transform="translate(126.3,630.0) scale(1,1.02)" text-anchor="middle">10</text>
<text transform="translate(258.2,630.0) scale(1,1.02)" text-anchor="middle">15</text>
<text transform="translate(390.1,630.0) scale(1,1.02)" text-anchor="middle">20</text>
<text transform="translate(522,630.0) scale(1,1.02)" text-anchor="middle">25</text>
<text transform="translate(653.9,630.0) scale(1,1.02)" text-anchor="middle">30</text>
</g>
<text transform="translate(361.8,643.9) scale(1,1.04)" font-size="11.55" text-anchor="middle" fill="#000">Population (millions)</text>
<text transform="translate(8.7,483.5) rotate(-90) scale(1,1.04)" text-anchor="middle" font-size="11.7" fill="#000">Proportion of top 3 English names</text>
<text transform="translate(0.8,358.2) scale(1,1.02)" font-size="13.1" font-weight="bold" fill="#000">b)</text>
<text transform="translate(287.8,675.1) scale(1,1.04)" font-size="11.6" fill="#000">Gender</text>
<line x1="333.6" x2="347" y1="671.6" y2="671.6" stroke="#A9A9A9" stroke-width="1.25"/><circle cx="340.3" cy="671.6" r="2.2" fill="#A9A9A9"/>
<text transform="translate(354.9,675.1) scale(1,1.04)" font-size="9.55" fill="#000">Female</text>
<line x1="393.7" x2="407.1" y1="671.6" y2="671.6" stroke="#000" stroke-width="1.25"/><circle cx="400.4" cy="671.6" r="2.2" fill="#000"/>
<text transform="translate(415.2,675.1) scale(1,1.04)" font-size="9.55" fill="#000">Male</text>
</g>
</svg></body></html>
